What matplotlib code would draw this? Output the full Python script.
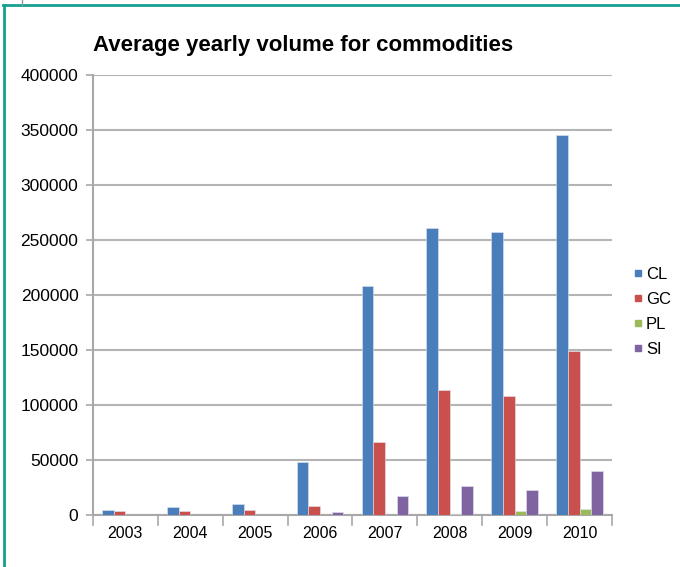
import matplotlib
matplotlib.use("Agg")
import matplotlib.pyplot as plt
from matplotlib.lines import Line2D
import numpy as np

plt.rcParams['font.family'] = ['Liberation Sans', 'DejaVu Sans']

years = ["2003", "2004", "2005", "2006", "2007", "2008", "2009", "2010"]
series_names = ["CL", "GC", "PL", "SI"]
cl = [5000, 7300, 10300, 48000, 208000, 261000, 257000, 345500]
gc = [3400, 3400, 4800, 8500, 66400, 113600, 108000, 149000]
pl = [100, 100, 100, 200, 400, 500, 3400, 5200]
si = [100, 100, 200, 2500, 17500, 26000, 23000, 40000]
yticks = [0, 50000, 100000, 150000, 200000, 250000, 300000, 350000, 400000]

colors = ["#4a7ebb", "#c9504c", "#9bbb59", "#8064a2"]

fig = plt.figure(figsize=(6.8, 5.67), dpi=100)
ax = fig.add_axes([93 / 680, 1 - 515 / 567, (612 - 93) / 680, 440 / 567])

x = np.arange(len(years))
width = 0.18
offsets = [-1.5 * width, -0.5 * width, 0.5 * width, 1.5 * width]
for vals, off, col, name in zip([cl, gc, pl, si], offsets, colors, series_names):
    ax.bar(x + off, vals, width=width, color=col, label=name,
           edgecolor="#dfe6ee", linewidth=0.4, zorder=3)

ax.set_xlim(-0.5, len(years) - 0.5)
ax.set_ylim(0, 400000)
ax.set_yticks(yticks)
ax.set_yticklabels([str(v) for v in yticks], fontsize=12.5)
ax.set_xticks(x)
ax.set_xticklabels(years, fontsize=11.5)
ax.tick_params(axis="x", length=0, pad=8)
ax.tick_params(axis="y", length=5, color="#a8a8a8", width=1.2, pad=5.5)

# category separator ticks along the bottom axis
for b in np.arange(-0.5, len(years), 1.0):
    ax.plot([b, b], [0, -9000], color="#a8a8a8", lw=1.2, clip_on=False, zorder=4)

ax.yaxis.grid(True, color="#b4b4b4", linewidth=1.5, zorder=0)
ax.set_axisbelow(True)
for side in ("top", "right"):
    ax.spines[side].set_visible(False)
for side in ("left", "bottom"):
    ax.spines[side].set_color("#a8a8a8")
    ax.spines[side].set_linewidth(1.5)

fig.text(93 / 680, 1 - 45 / 567, "Average yearly volume for commodities",
         fontsize=16, fontweight="bold", ha="left", va="center")

handles = [Line2D([0], [0], marker="s", linestyle="", markersize=5,
                  markerfacecolor=c, markeredgecolor=c) for c in colors]
fig.legend(handles, series_names, loc="upper left",
           bbox_to_anchor=(626 / 680, 1 - 260 / 567), frameon=False,
           fontsize=12, handlelength=0.6, handletextpad=0.2,
           labelspacing=0.6, borderaxespad=0)

# teal frame on the top and left edges
teal = "#17a091"
fig.add_artist(Line2D([3 / 680, 1], [1 - 5 / 567, 1 - 5 / 567],
                      transform=fig.transFigure, color=teal, lw=2))
fig.add_artist(Line2D([4 / 680, 4 / 680], [0, 1 - 5 / 567],
                      transform=fig.transFigure, color=teal, lw=2))
fig.add_artist(Line2D([22 / 680, 22 / 680], [1 - 5 / 567, 1],
                      transform=fig.transFigure, color="#9a9a9a", lw=1))

fig.savefig("out.png", dpi=100)
